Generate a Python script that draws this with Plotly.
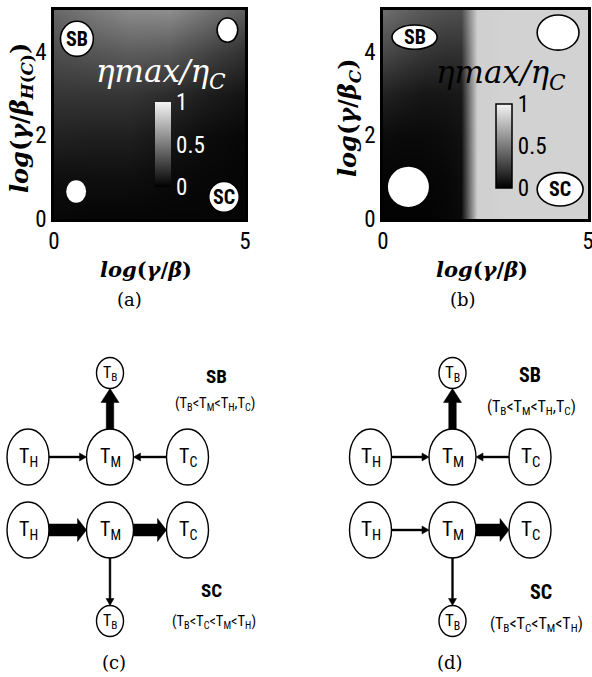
import math
import plotly.graph_objects as go

W, H = 592, 677

# ---------------- data: panel (a) heat map ----------------
a_x = [0, 1, 2, 3, 4, 5]
a_y = [0, 1, 2, 3, 4, 5]
a_z = [
    [0.03, 0.02, 0.02, 0.02, 0.02, 0.02],
    [0.06, 0.06, 0.06, 0.04, 0.03, 0.02],
    [0.14, 0.13, 0.13, 0.09, 0.05, 0.03],
    [0.22, 0.22, 0.22, 0.18, 0.12, 0.08],
    [0.32, 0.35, 0.38, 0.36, 0.28, 0.20],
    [0.42, 0.50, 0.57, 0.58, 0.48, 0.38],
]

# ---------------- data: panel (b) heat map ----------------
b_x = [0, 0.5, 1, 1.5, 1.9, 2.3, 3, 4, 5]
b_y = [0, 1, 2, 3, 4, 5]
b_z = [
    [0.01, 0.01, 0.01, 0.02, 0.04, 0.85, 0.86, 0.86, 0.86],
    [0.02, 0.02, 0.02, 0.03, 0.05, 0.85, 0.86, 0.86, 0.86],
    [0.05, 0.04, 0.04, 0.05, 0.07, 0.85, 0.86, 0.86, 0.86],
    [0.14, 0.11, 0.09, 0.09, 0.10, 0.85, 0.86, 0.86, 0.86],
    [0.30, 0.26, 0.22, 0.20, 0.20, 0.85, 0.86, 0.86, 0.86],
    [0.45, 0.40, 0.36, 0.33, 0.32, 0.85, 0.86, 0.86, 0.86],
]

x_ticks = [0, 5]
y_ticks = [0, 2, 4]
cbar_ticks = [0, 0.5, 1]
cbar_ticktext = ["0", "0.5", "1"]

# region markers on the heat maps: (label, x, y, half-width, half-height, outlined)
a_regions = [("SB", 0.6, 4.31, 0.43, 0.42, True), ("", 4.54, 4.52, 0.27, 0.29, True),
             ("", 0.58, 0.66, 0.26, 0.27, False), ("SC", 4.45, 0.53, 0.40, 0.37, True)]
b_regions = [("SB", 0.77, 4.35, 0.55, 0.29, True), ("", 4.27, 4.46, 0.51, 0.42, True),
             ("", 0.62, 0.77, 0.50, 0.48, False), ("SC", 4.32, 0.71, 0.56, 0.40, True)]

# ---------------- data: diagrams (c) and (d) ----------------
node_ids = ["TB_top", "TH_up", "TM_up", "TC_up", "TH_lo", "TM_lo", "TC_lo", "TB_bot"]
node_sub = ["B", "H", "M", "C", "H", "M", "C", "B"]
edges_c = [("TH_up", "TM_up", "thin"), ("TC_up", "TM_up", "thin"), ("TM_up", "TB_top", "vthick"),
           ("TH_lo", "TM_lo", "thick"), ("TM_lo", "TC_lo", "thick"), ("TM_lo", "TB_bot", "thin")]
edges_d = [("TH_up", "TM_up", "thin"), ("TC_up", "TM_up", "thin"), ("TM_up", "TB_top", "vthick"),
           ("TH_lo", "TM_lo", "thin"), ("TM_lo", "TC_lo", "thick"), ("TM_lo", "TB_bot", "thin")]

# ---------------- layout (positions / sizes / styles) ----------------
NARROW = "Roboto Condensed, DejaVu Sans Condensed, sans-serif"
SERIF = "DejaVu Serif, Liberation Serif, serif"

def px(x):
    return x / W

def py(y):
    return 1 - y / H

gray_scale = [[0, "#000000"], [1, "#f4f4f4"]]

fig = go.Figure()

# panel boxes in pixels: (left, top, right, bottom)
box_a = (54, 10, 245, 219)
box_b = (383, 10, 588, 219)

fig.add_trace(go.Heatmap(
    x=a_x, y=a_y, z=a_z, zmin=0, zmax=1, colorscale=gray_scale, zsmooth="best",
    xaxis="x", yaxis="y", hoverinfo="skip",
    colorbar=dict(x=px(155), xanchor="left", y=py(102), yanchor="top",
                  len=85, lenmode="pixels", thickness=16, thicknessmode="pixels",
                  xpad=0, ypad=0, outlinewidth=0, ticks="",
                  tickvals=cbar_ticks, ticktext=cbar_ticktext,
                  tickfont=dict(family=NARROW, size=23, color="white")),
))
fig.add_trace(go.Heatmap(
    x=b_x, y=b_y, z=b_z, zmin=0, zmax=1, colorscale=gray_scale, zsmooth="best",
    xaxis="x2", yaxis="y2", hoverinfo="skip",
    colorbar=dict(x=px(496), xanchor="left", y=py(104), yanchor="top",
                  len=84, lenmode="pixels", thickness=16, thicknessmode="pixels",
                  xpad=0, ypad=0, outlinewidth=1.5, outlinecolor="black", ticks="",
                  tickvals=cbar_ticks, ticktext=cbar_ticktext,
                  tickfont=dict(family=NARROW, size=23, color="black")),
))

def heat_axes(box):
    l, t, r, b = box
    common = dict(range=[0, 5], showgrid=False, zeroline=False, showline=True, linecolor="black",
                  linewidth=2.5, mirror=True, ticks="", automargin=False,
                  ticklabeloverflow="allow",
                  tickfont=dict(family=NARROW, size=23, color="black"))
    xa = dict(domain=[px(l), px(r)], tickvals=x_ticks, **common)
    ya = dict(domain=[py(b), py(t)], tickvals=y_ticks, **common)
    return xa, ya

xa1, ya1 = heat_axes(box_a)
xa2, ya2 = heat_axes(box_b)
xa1["anchor"] = "y"; ya1["anchor"] = "x"
xa2["anchor"] = "y2"; ya2["anchor"] = "x2"

shapes = []
annotations = []

def add_regions(regions, xr, yr):
    for lab, cx, cy, hw, hh, outlined in regions:
        shapes.append(dict(type="circle", xref=xr, yref=yr, x0=cx - hw, x1=cx + hw,
                           y0=cy - hh, y1=cy + hh, fillcolor="white",
                           line=dict(color="black", width=1.6 if outlined else 0)))
        if lab:
            annotations.append(dict(x=cx, y=cy, xref=xr, yref=yr, text="<b>%s</b>" % lab,
                                    showarrow=False, font=dict(family=NARROW, size=20, color="black")))

add_regions(a_regions, "x", "y")
add_regions(b_regions, "x2", "y2")

def paper_text(x, y, text, size, family, color="black", angle=0):
    annotations.append(dict(x=px(x), y=py(y), xref="paper", yref="paper", text=text,
                            showarrow=False, textangle=angle, xanchor="center", yanchor="middle",
                            font=dict(family=family, size=size, color=color)))

eta = "<i>ηmax/η<sub>C</sub></i>"
paper_text(161, 73, eta, 31, SERIF, "white")
paper_text(501, 75, eta, 31, SERIF, "black")

xt = "<b><i>log</i>(<i>γ</i>/<i>β</i>)</b>"
paper_text(146, 270, xt, 21, SERIF)
paper_text(482, 270, xt, 21, SERIF)
paper_text(21, 118, "<b><i>log</i>(<i>γ</i>/<i>β</i><sub><i>H</i>(<i>C</i>)</sub>)</b>", 24, SERIF, angle=-90)
paper_text(349, 117, "<b><i>log</i>(<i>γ</i>/<i>β</i><sub><i>C</i></sub>)</b>", 24, SERIF, angle=-90)

paper_text(129, 299, "(a)", 18, SERIF)
paper_text(463, 299, "(b)", 18, SERIF)
paper_text(114, 662, "(c)", 18, SERIF)
paper_text(450, 662, "(d)", 18, SERIF)

# ---------------- diagrams ----------------
# diagram units = pixels, origin at the upper T_M node, y upward
node_pos = {"TB_top": (0, 84), "TH_up": (-82, 0), "TM_up": (0, 0), "TC_up": (77.5, 0),
            "TH_lo": (-82, -73), "TM_lo": (0, -73), "TC_lo": (77.5, -73), "TB_bot": (0, -164)}
node_r = {"TB": (13.5, 15.5), "TH": (21, 28), "TM": (23.5, 28), "TC": (21, 28)}
arrow_style = {"thin": (1.8, 8, 7), "vthick": (7.5, 18, 14), "thick": (12, 23, 9)}

def diag_axes(dom_left, origin_x):
    top_px, bot_px = 340, 677
    org_y = 457
    xa = dict(domain=[px(dom_left), px(dom_left + 296)],
              range=[dom_left - origin_x, dom_left + 296 - origin_x], visible=False)
    ya = dict(domain=[py(bot_px), py(top_px)], range=[org_y - bot_px, org_y - top_px], visible=False)
    return xa, ya

xa3, ya3 = diag_axes(0, 110)
xa4, ya4 = diag_axes(296, 452.5)
xa3["anchor"] = "y3"; ya3["anchor"] = "x3"
xa4["anchor"] = "y4"; ya4["anchor"] = "x4"

def arrow_path(x0, y0, x1, y1, bw, hw, hl):
    dx, dy = x1 - x0, y1 - y0
    L = math.hypot(dx, dy)
    ux, uy = dx / L, dy / L
    nx, ny = -uy, ux
    bx, by = x1 - ux * hl, y1 - uy * hl
    pts = [(x0 + nx * bw / 2, y0 + ny * bw / 2), (bx + nx * bw / 2, by + ny * bw / 2),
           (bx + nx * hw / 2, by + ny * hw / 2), (x1, y1),
           (bx - nx * hw / 2, by - ny * hw / 2), (bx - nx * bw / 2, by - ny * bw / 2),
           (x0 - nx * bw / 2, y0 - ny * bw / 2)]
    return "M " + " L ".join("%.2f,%.2f" % p for p in pts) + " Z"

def draw_diagram(edges, xr, yr, label_pos, node_font):
    for nid, sub in zip(node_ids, node_sub):
        cx, cy = node_pos[nid]
        rx, ry = node_r[nid[:2]]
        shapes.append(dict(type="circle", xref=xr, yref=yr, x0=cx - rx, x1=cx + rx,
                           y0=cy - ry, y1=cy + ry, fillcolor="white",
                           line=dict(color="black", width=1.4)))
        size = node_font[0] if nid.startswith("TB") else node_font[1]
        annotations.append(dict(x=cx, y=cy, xref=xr, yref=yr, showarrow=False,
                                text="T<sub>%s</sub>" % sub,
                                font=dict(family=NARROW, size=size, color="black")))
    for a, b, kind in edges:
        (x0, y0), (x1, y1) = node_pos[a], node_pos[b]
        ra, rb = node_r[a[:2]], node_r[b[:2]]
        if y0 == y1:
            s = 1 if x1 > x0 else -1
            sx, sy, ex, ey = x0 + s * ra[0], y0, x1 - s * rb[0], y1
        else:
            s = 1 if y1 > y0 else -1
            sx, sy, ex, ey = x0, y0 + s * ra[1], x1, y1 - s * rb[1]
        bw, hw, hl = arrow_style[kind]
        shapes.append(dict(type="path", xref=xr, yref=yr, path=arrow_path(sx, sy, ex, ey, bw, hw, hl),
                           fillcolor="black", line=dict(color="black", width=0.5)))
    for (x, y, text, size) in label_pos:
        annotations.append(dict(x=x, y=y, xref=xr, yref=yr, showarrow=False, text=text,
                                font=dict(family=NARROW, size=size, color="black")))

sb_rule = "(T<sub>B</sub>&lt;T<sub>M</sub>&lt;T<sub>H</sub>,T<sub>C</sub>)"
sc_rule = "(T<sub>B</sub>&lt;T<sub>C</sub>&lt;T<sub>M</sub>&lt;T<sub>H</sub>)"
draw_diagram(edges_c, "x3", "y3", [(106, 81, "<b>SB</b>", 19), (105, 53, sb_rule, 14.5),
                                   (101, -133, "<b>SC</b>", 19), (104, -165, sc_rule, 14.5)], (16, 20))
draw_diagram(edges_d, "x4", "y4", [(77.5, 82, "<b>SB</b>", 20), (78.5, 50, sb_rule, 16),
                                   (88.5, -135, "<b>SC</b>", 20), (83.5, -167, sc_rule, 16)], (17, 21))

fig.update_layout(
    width=W, height=H, margin=dict(l=0, r=0, t=0, b=0, autoexpand=False),
    paper_bgcolor="white", plot_bgcolor="white", showlegend=False,
    xaxis=xa1, yaxis=ya1, xaxis2=xa2, yaxis2=ya2,
    xaxis3=xa3, yaxis3=ya3, xaxis4=xa4, yaxis4=ya4,
    shapes=shapes, annotations=annotations,
)

fig.write_html("out.html", config={"displayModeBar": False},
               post_script="document.body.style.margin='0px';document.body.style.overflow='hidden';")
